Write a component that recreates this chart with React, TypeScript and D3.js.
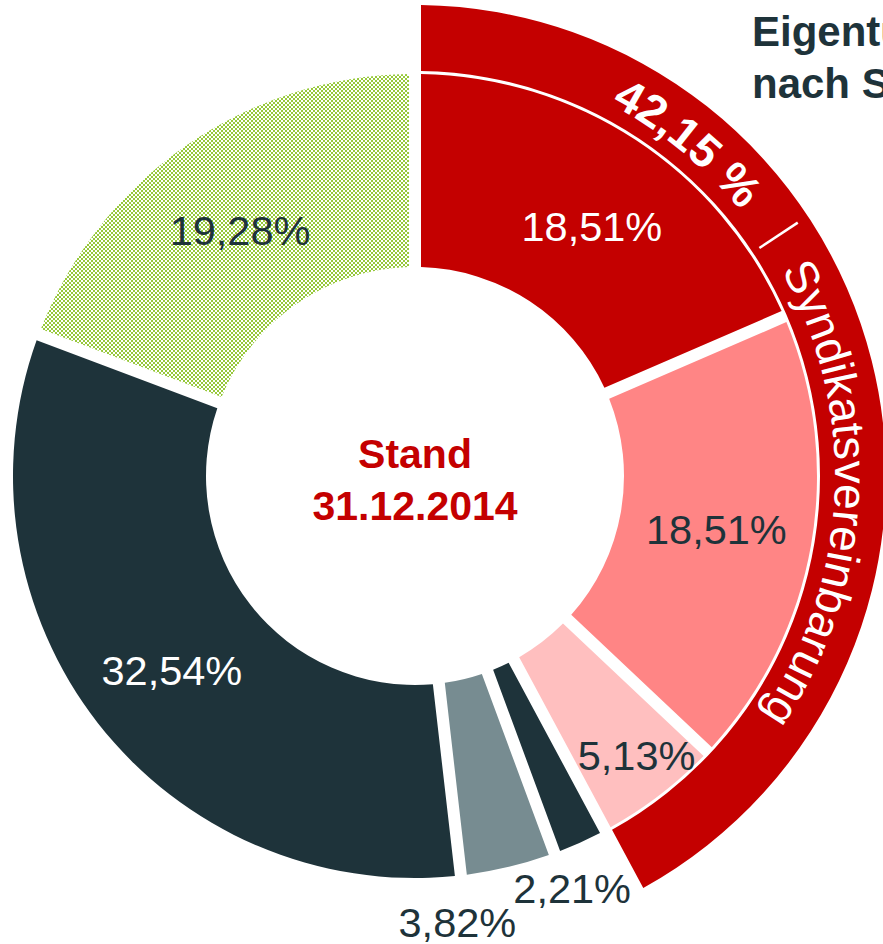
import React from "react";
import * as d3 from "d3";

// ---- data ----
const shareValues = [18.51, 18.51, 5.13, 2.21, 3.82, 32.54, 19.28];
const shareLabels = ["18,51%", "18,51%", "5,13%", "2,21%", "3,82%", "32,54%", "19,28%"];
const groupShare = 42.15;
const groupValueLabel = "42,15 %";
const groupName = "Syndikatsvereinbarung";
const titleLines = ["Eigentümerstruktur", "nach Syndikatsvereinbarung"];
const centerLines = ["Stand", "31.12.2014"];

// ---- styles / layout ----
const W = 883;
const H = 944;
const CX = 415;
const CY = 476;
const R_IN = 209;
const R_OUT = 402;
const BAND_IN = 405;
const BAND_OUT = 471;
const RED = "#c40000";
const DARK = "#1e333a";
const sliceFills = [RED, "#ff8585", "#ffbfbf", DARK, "#778c91", DARK, "url(#greenCheck)"];
const labelFills = ["#ffffff", DARK, DARK, DARK, DARK, "#ffffff", DARK];
// label placement: radius, angle shift (deg) relative to slice mid-angle
const labelPlacement = [
  { r: 306, da: 2 },
  { r: 306, da: 0 },
  { r: 356, da: -1 },
  { r: 441, da: 3.4 },
  { r: 448, da: 8 },
  { r: 311, da: -0.6 },
  { r: 302, da: -0.7 },
];

const FONT = "'Liberation Sans', Arial, sans-serif";
const PAD_R = 300;
const PAD_A = 12 / PAD_R;

export default function App() {
  const pie = d3
    .pie<number>()
    .sort(null)
    .value((d) => d)
    .startAngle(0)
    .endAngle(2 * Math.PI);
  const arcs = pie(shareValues);
  const arcGen = d3
    .arc<d3.PieArcDatum<number>>()
    .innerRadius(R_IN)
    .outerRadius(R_OUT)
    .padAngle(PAD_A)
    .padRadius(PAD_R);

  const groupEnd = (groupShare / 100) * 2 * Math.PI;
  const bandPath = d3
    .arc<any>()
    .innerRadius(BAND_IN)
    .outerRadius(BAND_OUT)
    .padAngle(PAD_A)
    .padRadius(PAD_R)({ startAngle: 0, endAngle: groupEnd } as any) as string;

  const rad = (deg: number) => (deg * Math.PI) / 180;
  const polar = (r: number, a: number) => [CX + r * Math.sin(a), CY - r * Math.cos(a)];

  // text path along band (baseline)
  const RB = 420;
  const p0 = polar(RB, 0);
  const p1 = polar(RB, groupEnd);
  const textArc = `M${p0[0]},${p0[1]} A${RB},${RB} 0 0 1 ${p1[0]},${p1[1]}`;
  const offsetFor = (deg: number) => rad(deg) * RB;

  const sepA = rad(56.5);
  const s0 = polar(413, sepA);
  const s1 = polar(459, sepA);

  return (
    <svg
      width={W}
      height={H}
      style={{ position: "absolute", left: 0, top: 0, overflow: "hidden", background: "#fff" }}
      fontFamily={FONT}
    >
      <defs>
        <pattern id="greenCheck" patternUnits="userSpaceOnUse" width={4} height={4}>
          <rect x={0} y={0} width={4} height={4} fill="#ffffff" />
          <rect x={0} y={0} width={2} height={2} fill="#97c93a" />
          <rect x={2} y={2} width={2} height={2} fill="#97c93a" />
        </pattern>
        <path id="bandTextPath" d={textArc} />
      </defs>
      <rect x={0} y={0} width={W} height={H} fill="#fff" />

      <g transform={`translate(${CX},${CY})`}>
        <path d={bandPath} fill={RED} />
        {arcs.map((a, i) => (
          <path key={i} d={arcGen(a) as string} fill={sliceFills[i]} />
        ))}
      </g>

      <text fontSize={46} fill="#ffffff">
        <textPath href="#bandTextPath" startOffset={offsetFor(39.3)} textAnchor="middle" fontWeight="bold">
          {groupValueLabel}
        </textPath>
      </text>
      <text fontSize={46} fill="#ffffff">
        <textPath href="#bandTextPath" startOffset={offsetFor(92.6)} textAnchor="middle">
          {groupName}
        </textPath>
      </text>
      <line x1={s0[0]} y1={s0[1]} x2={s1[0]} y2={s1[1]} stroke="#fff" strokeWidth={2.5} />

      {arcs.map((a, i) => {
        const mid = (a.startAngle + a.endAngle) / 2 + rad(labelPlacement[i].da);
        const [x, y] = polar(labelPlacement[i].r, mid);
        return (
          <text
            key={i}
            x={x}
            y={y}
            dy="0.36em"
            textAnchor="middle"
            fontSize={41.5}
            fill={labelFills[i]}
          >
            {shareLabels[i]}
          </text>
        );
      })}

      <text x={CX} y={468} textAnchor="middle" fontSize={41} fontWeight="bold" fill={RED}>
        {centerLines[0]}
      </text>
      <text x={CX} y={520} textAnchor="middle" fontSize={41} fontWeight="bold" fill={RED}>
        {centerLines[1]}
      </text>

      <text x={752} y={46} fontSize={42} fontWeight="bold" fill={DARK}>
        {titleLines[0]}
      </text>
      <text x={752} y={98} fontSize={42} fontWeight="bold" fill={DARK}>
        {titleLines[1]}
      </text>
    </svg>
  );
}
